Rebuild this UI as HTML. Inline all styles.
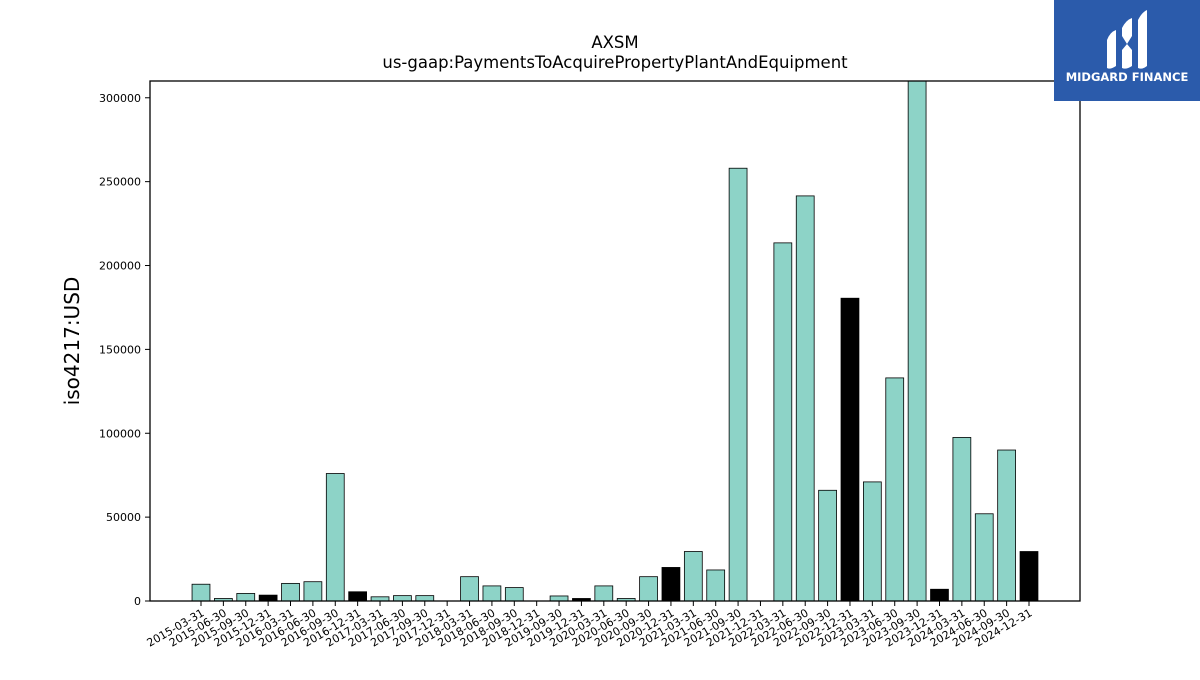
<!DOCTYPE html>
<html><head><meta charset="utf-8"><style>
body{margin:0;background:#fff;}
svg text{font-family:"DejaVu Sans","Liberation Sans",sans-serif;}
</style></head><body>
<svg id="chart" width="1200" height="675" xmlns="http://www.w3.org/2000/svg">
<text x="615" y="48" font-size="16.5" text-anchor="middle">AXSM</text>
<text x="615" y="68" font-size="16.5" text-anchor="middle">us-gaap:PaymentsToAcquirePropertyPlantAndEquipment</text>
<text transform="translate(79,341) rotate(-90)" font-size="20" text-anchor="middle">iso4217:USD</text>
<defs><clipPath id="pc"><rect x="150" y="81" width="930" height="520"/></clipPath></defs>
<g id="bars" clip-path="url(#pc)"></g>
<g id="axes"></g>
<rect x="150" y="81" width="930" height="520" fill="none" stroke="#000" stroke-width="1.3"/>
<g>
<rect x="1054" y="0" width="146" height="101" fill="#2b5bab"/>
<path d="M1107 40 Q1110 32 1116 30 L1116 66 Q1110 70 1107 68 Z" fill="#fff"/>
<path d="M1122 28 Q1126 20 1132 18 L1132 36 L1127 44 L1122 36 Z M1122 50 L1127 44 L1132 50 L1132 66 Q1126 70 1122 68 Z" fill="#fff"/>
<path d="M1138 20 Q1142 12 1147 10 L1147 66 Q1142 70 1138 68 Z" fill="#fff"/>
<text x="1127" y="81" font-size="11.5" font-weight="bold" fill="#fff" text-anchor="middle">MIDGARD FINANCE</text>
</g>
</svg>
<script>
const categories=["2015-03-31","2015-06-30","2015-09-30","2015-12-31","2016-03-31","2016-06-30","2016-09-30","2016-12-31","2017-03-31","2017-06-30","2017-09-30","2017-12-31","2018-03-31","2018-06-30","2018-09-30","2018-12-31","2019-09-30","2019-12-31","2020-03-31","2020-06-30","2020-09-30","2020-12-31","2021-03-31","2021-06-30","2021-09-30","2021-12-31","2022-03-31","2022-06-30","2022-09-30","2022-12-31","2023-03-31","2023-06-30","2023-09-30","2023-12-31","2024-03-31","2024-06-30","2024-09-30","2024-12-31"];
const values=[10000,1500,4500,3500,10500,11500,76000,5500,2500,3200,3200,0,14500,9000,8000,0,3000,1500,9000,1500,14500,20000,29500,18500,258000,0,213500,241500,66000,180500,71000,133000,315000,7000,97500,52000,90000,29500];
const yTicks=[0,50000,100000,150000,200000,250000,300000];
const yMax=310000;
const NS="http://www.w3.org/2000/svg";
const x0=150,x1=1080,y0=601,y1=81;
const step=(1029-201)/(categories.length-1);
function xs(i){return 201+i*step;}
function ys(v){return y0-(v/yMax)*(y0-y1);}
const bars=document.getElementById('bars'),axes=document.getElementById('axes');
function mk(t,a,p){const e=document.createElementNS(NS,t);for(const k in a)e.setAttribute(k,a[k]);p.appendChild(e);return e;}
values.forEach((v,i)=>{
 const q4=categories[i].endsWith("12-31");
 const w=step*0.8;
 const r=mk('rect',{x:xs(i)-w/2,y:ys(v),width:w,height:y0-ys(v),fill:q4?'#000':'#8dd3c7',stroke:'#000','stroke-width':0.8},bars);
 
 
});
yTicks.forEach(t=>{
 const y=ys(t);
 mk('line',{x1:x0-5,x2:x0,y1:y,y2:y,stroke:'#000','stroke-width':1},axes);
 const tx=mk('text',{x:x0-9,y:y+4,'font-size':11,'text-anchor':'end'},axes);
 tx.textContent=t;
 
 
});
categories.forEach((c,i)=>{
 const x=xs(i);
 mk('line',{x1:x,x2:x,y1:y0,y2:y0+5,stroke:'#000','stroke-width':1},axes);
 const tx=mk('text',{transform:`translate(${x+4},${y0+14}) rotate(-30)`,'font-size':11,'text-anchor':'end'},axes);
 tx.textContent=c;
 
 
});
</script>
</body></html>
